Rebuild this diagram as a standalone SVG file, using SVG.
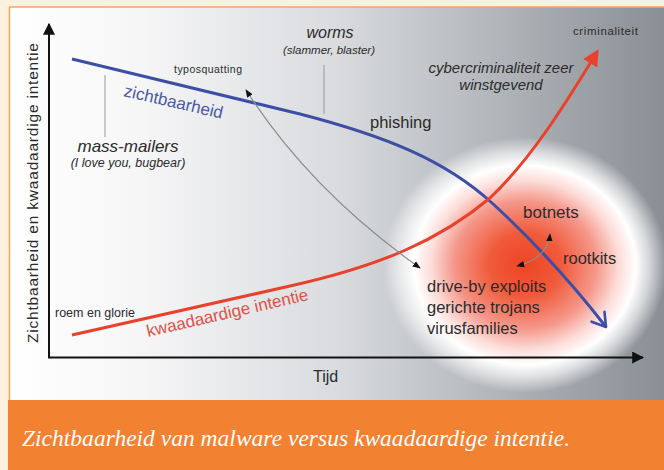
<svg xmlns="http://www.w3.org/2000/svg" width="664" height="470" viewBox="0 0 664 470">
<defs>
<linearGradient id="panelGrad" x1="0" y1="0" x2="1" y2="0">
<stop offset="0" stop-color="#ffffff"/>
<stop offset="0.2" stop-color="#f6f6f7"/>
<stop offset="0.5" stop-color="#d9dbde"/>
<stop offset="0.8" stop-color="#a9adb2"/>
<stop offset="1" stop-color="#8a8f95"/>
</linearGradient>
<radialGradient id="glow" cx="525" cy="265" r="142" gradientUnits="userSpaceOnUse" gradientTransform="translate(525 265) scale(1 0.9) translate(-525 -265)">
<stop offset="0" stop-color="#ee4424"/>
<stop offset="0.25" stop-color="#f05a3a"/>
<stop offset="0.5" stop-color="#f5978a"/>
<stop offset="0.66" stop-color="#fcdcd8"/>
<stop offset="0.78" stop-color="#ffffff"/>
<stop offset="0.88" stop-color="#ffffff" stop-opacity="0.6"/>
<stop offset="1" stop-color="#ffffff" stop-opacity="0"/>
</radialGradient>
<marker id="axisHead" viewBox="0 0 10 10" refX="9" refY="5" markerWidth="6" markerHeight="6" orient="auto" markerUnits="strokeWidth">
<path d="M0,0 L10,5 L0,10 z" fill="#111"/>
</marker>
<marker id="smallHead" viewBox="0 0 10 10" refX="9" refY="5" markerWidth="8" markerHeight="8" orient="auto-start-reverse" markerUnits="userSpaceOnUse">
<path d="M0,1 L10,5 L0,9 z" fill="#111"/>
</marker>
<marker id="redHead" viewBox="0 0 10 10" refX="8" refY="5" markerWidth="5.5" markerHeight="5.5" orient="auto" markerUnits="strokeWidth">
<path d="M0,0 L10,5 L0,10 z" fill="#e8412c"/>
</marker>
<marker id="blueHead" viewBox="0 0 12 12" refX="10" refY="6" markerWidth="6.5" markerHeight="6.5" orient="auto" markerUnits="strokeWidth">
<path d="M2,1 L10,6 L2,11" fill="none" stroke="#3d4fa5" stroke-width="1.6" stroke-linecap="round" stroke-linejoin="round"/>
</marker>
</defs>
<style>
text { font-family: "Liberation Sans", Arial, sans-serif; fill: #2b2b2b; }
.it { font-style: italic; }
.ptr { stroke: #8e8e8e; stroke-width: 1.2; fill: none; }
.thin { stroke: #999; stroke-width: 1; fill: none; }
.cap { font-family: "Liberation Serif", "Times New Roman", serif; font-style: italic; font-size: 23.5px; fill: #ffffff; }
</style>

<!-- frame -->
<rect x="0" y="0" width="664" height="470" fill="#fcf0df"/>
<rect x="9" y="7" width="655" height="393" fill="url(#panelGrad)"/>
<line x1="9" y1="7" x2="664" y2="7" stroke="#f5a466" stroke-width="1.5"/>
<line x1="9.5" y1="7" x2="9.5" y2="400" stroke="#f5a466" stroke-width="1.5"/>
<ellipse cx="525" cy="265" rx="144" ry="130" fill="url(#glow)"/>
<rect x="8" y="400" width="656" height="70" fill="#f38132"/>
<text class="cap" x="22" y="446" textLength="548">Zichtbaarheid van malware versus kwaadaardige intentie.</text>

<!-- axes -->
<g id="axes">
<line x1="49" y1="358" x2="49" y2="24" stroke="#111" stroke-width="2" marker-end="url(#axisHead)"/>
<line x1="48" y1="357.5" x2="643" y2="357.5" stroke="#111" stroke-width="2" marker-end="url(#axisHead)"/>
<text id="yLabel" transform="translate(38 193) rotate(-90)" text-anchor="middle" font-size="15.5" textLength="300">Zichtbaarheid en kwaadaardige intentie</text>
<text id="xLabel" x="313" y="382" font-size="16">Tijd</text>
</g>

<!-- connectors -->
<g id="connectors">
<path id="zichtbaarheidCurve" d="M72,59 L300,114 C385,136 445,160 492,203 C540,247 575,287 606,327" fill="none" stroke="#3d4fa5" stroke-width="3" marker-end="url(#blueHead)"/>
<path id="intentieCurve" d="M72,335 L290,286 C380,266 440,240 490,198 C530,160 563,108 597,52" fill="none" stroke="#e8412c" stroke-width="3" marker-end="url(#redHead)"/>
<path id="typoArrow" class="ptr" d="M246,90 Q310,190 420,268" marker-start="url(#smallHead)" marker-end="url(#smallHead)"/>
<path id="botnetArrow" class="ptr" d="M517,266 Q548,258 550,234" marker-start="url(#smallHead)" marker-end="url(#smallHead)"/>
<line id="wormsPointer" class="thin" x1="324" y1="65" x2="324" y2="114"/>
<line id="massPointer" class="thin" x1="105" y1="75" x2="105" y2="137"/>
</g>

<!-- nodes -->
<g id="worms">
<text class="it" x="330" y="38" font-size="16" text-anchor="middle">worms</text>
<text class="it" x="329" y="54" font-size="11.5" text-anchor="middle">(slammer, blaster)</text>
</g>
<g id="typosquatting">
<text x="174" y="73" font-size="10.5" textLength="68">typosquatting</text>
</g>
<g id="zichtbaarheid">
<text transform="translate(123 96) rotate(13)" font-size="17" style="fill:#4a5aa8">zichtbaarheid</text>
</g>
<g id="massMailers">
<text class="it" x="128" y="152" font-size="17" text-anchor="middle">mass-mailers</text>
<text class="it" x="128" y="167" font-size="12.5" text-anchor="middle">(I love you, bugbear)</text>
</g>
<g id="phishing">
<text x="370" y="128" font-size="16.5">phishing</text>
</g>
<g id="criminaliteit">
<text x="573" y="35" font-size="11.5" textLength="65">criminaliteit</text>
</g>
<g id="cybercriminaliteit">
<text class="it" x="501" y="73" font-size="15" text-anchor="middle">cybercriminaliteit zeer</text>
<text class="it" x="501" y="90" font-size="15" text-anchor="middle">winstgevend</text>
</g>
<g id="botnets">
<text x="523" y="218" font-size="17">botnets</text>
</g>
<g id="rootkits">
<text x="563" y="264" font-size="16.5">rootkits</text>
</g>
<g id="driveBy">
<text x="427" y="292" font-size="16.5">drive-by exploits</text>
<text x="427" y="313" font-size="16.5">gerichte trojans</text>
<text x="427" y="334" font-size="16.5">virusfamilies</text>
</g>
<g id="roemEnGlorie">
<text x="55" y="317" font-size="12.5">roem en glorie</text>
</g>
<g id="kwaadaardigeIntentie">
<text transform="translate(148 337) rotate(-13)" font-size="17" style="fill:#e25048">kwaadaardige intentie</text>
</g>
</svg>
